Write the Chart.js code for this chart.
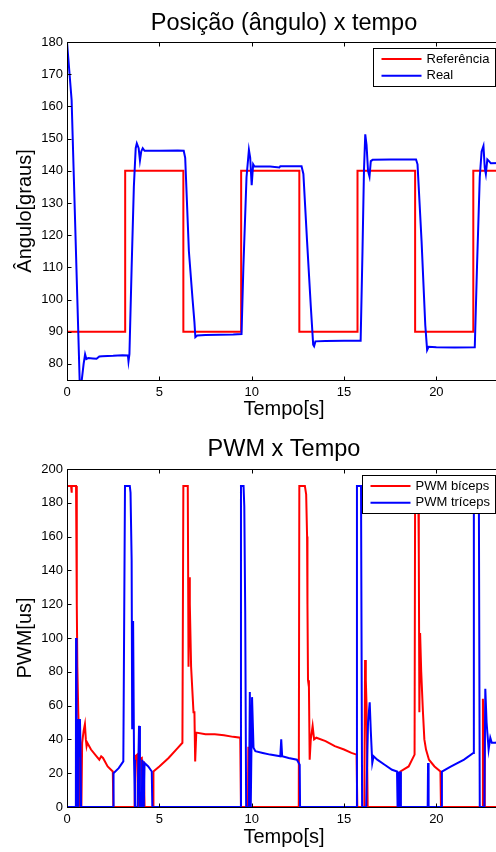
<!DOCTYPE html>
<html>
<head>
<meta charset="utf-8">
<script src="https://cdn.jsdelivr.net/npm/chart.js@4.4.0/dist/chart.umd.min.js"></script>
<style>
  html, body { margin: 0; padding: 0; background: #fff; overflow: hidden; }
  #wrap { position: relative; width: 496px; height: 852px; overflow: hidden; }
  canvas { position: absolute; left: 0; }
  #posChart { top: 0; }
  #pwmChart { top: 426px; }
</style>
</head>
<body>
<div id="wrap">
  <canvas id="posChart" width="520" height="426"></canvas>
  <canvas id="pwmChart" width="520" height="426"></canvas>
</div>
<script>
// Posição: referência (degraus) e resposta real
const refT = [0, 3.15, 6.3, 9.43, 12.58, 15.73, 18.85, 22.0, 23.5];
const refV = [90, 140, 90, 140, 90, 140, 90, 140, 140];

const realT = [0, 0.25, 0.56, 0.70, 0.78, 0.90, 0.98, 1.05, 1.15, 1.40, 1.60, 1.75, 1.90, 2.5, 3.0, 3.3, 3.33, 3.38,
  3.5, 3.62, 3.72, 3.78, 3.88, 3.95, 4.02, 4.10, 4.20, 5.0, 6.0, 6.32, 6.40, 6.6, 6.8, 6.9, 6.95, 7.05, 7.5, 9.0, 9.45,
  9.55, 9.72, 9.85, 9.92, 10.0, 10.08, 10.15, 11.0, 11.5, 11.55, 12.7, 12.8, 13.0, 13.2, 13.33, 13.38, 13.45, 14.0, 15.0,
  15.9, 16.0, 16.08, 16.15, 16.22, 16.3, 16.38, 16.45, 16.55, 17.5, 18.9, 18.98, 19.2, 19.4, 19.5, 19.58, 20.0, 21.0,
  22.08, 22.2, 22.35, 22.45, 22.55, 22.62, 22.68, 22.76, 22.85, 22.95, 23.5];
const realV = [180, 162, 100, 72, 74, 80, 83, 81.5, 81.8, 81.7, 81.6, 82.3, 82.4, 82.5, 82.7, 82.6, 80.8, 83,
  110, 135, 147, 148.5, 147, 143.2, 146, 147, 146.2, 146.2, 146.3, 146.2, 144, 115, 100, 93, 88.3, 88.8, 89.0, 89.1, 89.3,
  110, 138, 146.5, 144, 135.5, 142, 141.3, 141.3, 141.0, 141.4, 141.4, 139, 118, 98, 86, 85.5, 87, 87.1, 87.2,
  87.2, 115, 140, 151.3, 148, 140, 138.2, 143, 143.4, 143.5, 143.5, 142, 118, 92, 84.3, 85.3, 85.2, 85.1,
  85.2, 110, 138, 146, 147.7, 141, 139.0, 143.5, 143, 142.3, 142.4];

// PWM do bíceps
const bicepsT = [0, 0.22, 0.24, 0.27, 0.49, 0.53, 0.56, 0.61, 0.66, 0.70, 0.78, 0.82, 0.90, 0.97, 1.02, 1.06, 1.10, 1.3,
  1.6, 1.75, 1.85, 1.95, 2.2, 2.48, 2.51, 3.66, 3.70, 3.80, 3.85, 3.9, 4.05, 4.1, 4.15, 4.2, 4.66, 4.68, 5.0, 5.5, 6.0,
  6.25, 6.3, 6.54, 6.58, 6.62, 6.65, 6.72, 6.85, 6.9, 6.94, 7.0, 7.5, 8.0, 8.5, 9.0, 9.38, 9.42, 9.80, 9.82, 9.86, 9.9,
  12.55, 12.58, 12.88, 12.95, 13.0, 13.02, 13.05, 13.1, 13.14, 13.2, 13.3, 13.38, 13.5, 14.0, 14.5, 15.0, 15.4, 15.68,
  15.72, 16.1, 16.14, 16.18, 16.22, 16.28, 18.03, 18.05, 18.5, 18.82, 18.85, 19.02, 19.05, 19.08, 19.12, 19.18, 19.27,
  19.35, 19.44, 19.6, 19.9, 20.22, 20.25, 22.48, 22.52, 22.58, 22.62, 23.5];
const bicepsV = [190, 190, 186, 190, 190, 120, 83, 56, 40, 0, 0, 38, 45, 49, 40, 36, 38, 34,
  30, 28, 30, 29, 24, 21, 0, 0, 30, 31, 0, 28, 29, 0, 27, 0, 0, 21, 24, 29, 35,
  38, 190, 190, 83, 136, 120, 83, 56, 56, 27, 44, 43, 43, 42.5, 41.5, 41, 0, 0, 35, 35, 0,
  0, 190, 190, 185, 160, 120, 75, 71, 28, 40, 48, 40, 41, 39, 36, 34, 32, 31,
  0, 0, 87, 75, 60, 0, 0, 21, 24, 31, 190, 190, 150, 56, 103, 80, 57,
  40, 34, 28, 24, 21, 0, 0, 64, 45, 0, 0];

// PWM do tríceps
const tricepsT = [0, 0.48, 0.49, 0.52, 0.6, 0.62, 0.66, 0.70, 0.73, 0.76, 2.50, 2.52, 2.8, 3.05, 3.14, 3.40, 3.44, 3.50,
  3.53, 3.58, 3.63, 3.68, 3.82, 3.9, 3.95, 4.05, 4.08, 4.16, 4.2, 4.4, 4.59, 4.62, 9.40, 9.42, 9.56, 9.6, 9.65, 9.7,
  9.85, 9.9, 9.95, 10.02, 10.1, 10.2, 10.6, 11.0, 11.55, 11.6, 11.65, 12.0, 12.45, 12.6, 12.62, 15.68, 15.7, 15.92,
  15.98, 16.2, 16.3, 16.39, 16.45, 16.53, 16.6, 16.8, 17.2, 17.6, 17.87, 17.9, 17.95, 18.0, 18.05, 18.08, 19.53, 19.55,
  19.58, 20.28, 20.3, 20.8, 21.5, 22.0, 22.03, 22.3, 22.35, 22.6, 22.65, 22.72, 22.83, 22.92, 23.0, 23.2, 23.5];
const tricepsV = [0, 0, 100, 0, 0, 52, 30, 52, 37, 0, 0, 20, 23, 27, 190, 190, 186, 146,
  46, 110, 28, 0, 0, 48, 0, 0, 28, 0, 26, 24, 21, 0, 0, 190, 190, 178, 115, 0,
  0, 68, 0, 65, 35, 33, 32, 31, 30, 40, 30, 29, 28, 25, 0, 0, 190, 190,
  0, 0, 50, 62, 45, 26, 30, 28, 25, 22, 21, 0, 21, 0, 21, 0, 0, 26,
  0, 0, 21, 24, 28, 32, 190, 190, 0, 0, 70, 50, 34, 41, 38, 38, 39];

const tMax = 23.5;
const fontFamily = '"Liberation Sans", Arial, Helvetica, sans-serif';

Chart.defaults.font.family = fontFamily;
Chart.defaults.color = '#000';

function toPoints(ts, vs) {
  return ts.map((t, i) => ({ x: t, y: vs[i] }));
}

// Caixa estilo MATLAB: moldura, marcas para dentro e legenda com borda
const matlabBox = {
  id: 'matlabBox',
  afterDatasetsDraw(chart, args, opts) {
    const { ctx, chartArea: a, scales } = chart;
    const l = Math.round(a.left) + 0.5, r = Math.round(a.right) + 0.5;
    const t = Math.round(a.top) + 0.5, b = Math.round(a.bottom) + 0.5;
    const tk = 4;
    ctx.save();
    ctx.strokeStyle = '#000';
    ctx.lineWidth = 1;
    ctx.beginPath();
    scales.x.ticks.forEach(tick => {
      const px = Math.round(scales.x.getPixelForValue(tick.value)) + 0.5;
      ctx.moveTo(px, b); ctx.lineTo(px, b - tk);
      ctx.moveTo(px, t); ctx.lineTo(px, t + tk);
    });
    scales.y.ticks.forEach(tick => {
      const py = Math.round(scales.y.getPixelForValue(tick.value)) + 0.5;
      ctx.moveTo(l, py); ctx.lineTo(l + tk, py);
      ctx.moveTo(r, py); ctx.lineTo(r - tk, py);
    });
    ctx.stroke();
    ctx.strokeRect(l, t, r - l, b - t);

    // legenda
    const items = chart.data.datasets;
    ctx.font = '13px ' + fontFamily;
    const textW = Math.max(...items.map(d => ctx.measureText(d.label).width));
    const w = Math.round(8 + 40 + 5 + textW + 6);
    const h = 38;
    const x0 = Math.round(a.right - opts.legendRight - w) + 0.5;
    const y0 = Math.round(a.top + opts.legendTop) + 0.5;
    ctx.fillStyle = '#fff';
    ctx.fillRect(x0, y0, w, h);
    ctx.strokeRect(x0, y0, w, h);
    items.forEach((d, i) => {
      const y = y0 + 10.5 + i * 16.7;
      ctx.strokeStyle = d.borderColor;
      ctx.lineWidth = 2;
      ctx.beginPath();
      ctx.moveTo(x0 + 8, y); ctx.lineTo(x0 + 48, y);
      ctx.stroke();
      ctx.fillStyle = '#000';
      ctx.textBaseline = 'middle';
      ctx.textAlign = 'left';
      ctx.fillText(d.label, x0 + 53, y);
    });
    ctx.restore();
  }
};

function makeOptions(opt) {
  return {
    responsive: false,
    animation: false,
    layout: { padding: { left: 0, right: 19, top: 0, bottom: 0 } },
    elements: { point: { radius: 0 }, line: { borderWidth: 2, tension: 0 } },
    plugins: {
      legend: { display: false },
      tooltip: { enabled: false },
      title: {
        display: true,
        text: opt.title,
        fullSize: false,
        color: '#000',
        font: { size: 23.5, weight: 'normal', lineHeight: 1 },
        padding: opt.titlePad
      },
      matlabBox: { legendRight: opt.legendRight, legendTop: 6 }
    },
    scales: {
      x: {
        type: 'linear',
        min: 0,
        max: tMax,
        grid: { display: false, drawTicks: false },
        border: { display: false },
        ticks: { stepSize: 5, padding: 5, font: { size: 13 }, maxRotation: 0 },
        afterBuildTicks: s => { s.ticks = s.ticks.filter(k => k.value % 5 === 0); },
        afterFit: s => { s.height = opt.xHeight; },
        title: {
          display: true, text: 'Tempo[s]',
          font: { size: 20, lineHeight: 1 },
          padding: { top: 0, bottom: opt.xTitlePad }
        }
      },
      y: {
        min: opt.yMin,
        max: opt.yMax,
        grid: { display: false, drawTicks: false },
        border: { display: false },
        ticks: { stepSize: opt.yStep, padding: 4, font: { size: 13 } },
        afterBuildTicks: s => { s.ticks = s.ticks.filter(k => k.value % opt.yStep === 0); },
        afterFit: s => { s.width = 67; },
        title: {
          display: true, text: opt.yTitle,
          font: { size: 20, lineHeight: 1 },
          padding: { top: 15, bottom: 0 }
        }
      }
    }
  };
}

new Chart(document.getElementById('posChart'), {
  type: 'line',
  data: {
    datasets: [
      { label: 'Referência', data: toPoints(refT, refV), borderColor: '#ff0000', stepped: 'before', order: 1 },
      { label: 'Real', data: toPoints(realT, realV), borderColor: '#0000ff', order: 0 }
    ]
  },
  options: makeOptions({
    title: 'Posição (ângulo) x tempo',
    titlePad: { top: 11.5, bottom: 7 },
    yTitle: 'Ângulo[graus]',
    yMin: 75, yMax: 180, yStep: 10,
    xHeight: 46, xTitlePad: 7,
    legendRight: 6.5
  }),
  plugins: [matlabBox]
});

new Chart(document.getElementById('pwmChart'), {
  type: 'line',
  data: {
    datasets: [
      { label: 'PWM bíceps', data: toPoints(bicepsT, bicepsV), borderColor: '#ff0000', order: 1 },
      { label: 'PWM tríceps', data: toPoints(tricepsT, tricepsV), borderColor: '#0000ff', order: 0 }
    ]
  },
  options: makeOptions({
    title: 'PWM x Tempo',
    titlePad: { top: 12, bottom: 7.5 },
    yTitle: 'PWM[us]',
    yMin: 0, yMax: 200, yStep: 20,
    xHeight: 45, xTitlePad: 5,
    legendRight: 6
  }),
  plugins: [matlabBox]
});
</script>
</body>
</html>
